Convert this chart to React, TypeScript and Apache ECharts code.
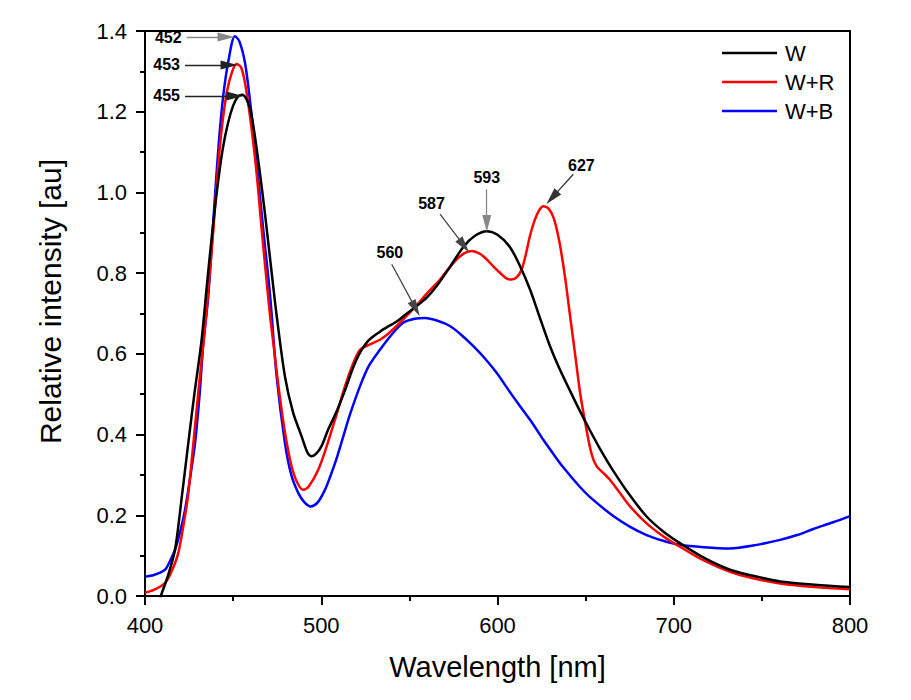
import React, { useEffect, useRef } from "react";
import * as echarts from "echarts";

// ---- data ----
const wlW = [400, 405, 409, 413, 417, 421, 424.6, 428, 432, 435, 438, 441, 444, 447, 450, 452.5, 455, 457.5, 460, 462, 465, 468, 471, 474.7, 479.4, 484, 488.9, 492, 494.5, 497, 500, 504, 509, 513.5, 518, 522, 527, 533.3, 538, 542.8, 548, 554, 560, 565.5, 573, 580.6, 587, 593.9, 600, 607, 612.5, 618.4, 624, 629.8, 635, 641, 646.8, 652.5, 658, 665.7, 675, 684.6, 694, 703.5, 717, 731.9, 745, 760.3, 780, 800];
const valW = [-0.12, -0.06, 0.0, 0.05, 0.114, 0.25, 0.38, 0.5, 0.63, 0.765, 0.895, 1.01, 1.105, 1.17, 1.215, 1.236, 1.242, 1.232, 1.2, 1.15, 1.055, 0.95, 0.835, 0.695, 0.544, 0.455, 0.395, 0.357, 0.346, 0.352, 0.37, 0.413, 0.46, 0.51, 0.565, 0.603, 0.634, 0.655, 0.668, 0.68, 0.698, 0.718, 0.74, 0.768, 0.815, 0.865, 0.892, 0.904, 0.895, 0.865, 0.82, 0.76, 0.69, 0.619, 0.565, 0.51, 0.458, 0.41, 0.366, 0.31, 0.25, 0.197, 0.16, 0.131, 0.095, 0.065, 0.05, 0.036, 0.028, 0.022];

const wlWR = [400, 405, 411.3, 415, 418.9, 422, 424.6, 427.5, 430.2, 433, 435, 438.8, 441, 443.5, 446.5, 449.5, 452, 454.5, 457, 460.5, 463.5, 466.2, 469, 471, 472.8, 475, 477.5, 480, 483.2, 486.5, 489.8, 493, 498.3, 503, 507.8, 513.5, 518, 522, 527, 533.3, 538, 542.8, 548, 554, 560, 567.4, 572, 576.9, 581, 585.4, 590, 593.9, 598, 601.4, 605, 608, 611, 613.7, 616, 618.4, 621, 623.5, 626, 629, 632, 635, 638, 641, 644, 647, 650.6, 653.5, 656.3, 660, 663.8, 670, 675.2, 684.6, 694, 703.5, 717, 731.9, 745, 760.3, 780, 800];
const valWR = [0.008, 0.015, 0.032, 0.06, 0.107, 0.18, 0.255, 0.38, 0.503, 0.62, 0.71, 0.908, 1.04, 1.157, 1.25, 1.3, 1.318, 1.31, 1.265, 1.157, 1.04, 0.908, 0.78, 0.693, 0.627, 0.545, 0.462, 0.39, 0.321, 0.28, 0.263, 0.272, 0.313, 0.37, 0.437, 0.52, 0.575, 0.61, 0.622, 0.635, 0.65, 0.669, 0.692, 0.72, 0.75, 0.784, 0.81, 0.834, 0.849, 0.855, 0.848, 0.834, 0.815, 0.801, 0.787, 0.784, 0.79, 0.809, 0.845, 0.892, 0.93, 0.955, 0.966, 0.96, 0.935, 0.88, 0.8, 0.7, 0.6, 0.5, 0.41, 0.35, 0.321, 0.305, 0.288, 0.252, 0.222, 0.18, 0.148, 0.122, 0.088, 0.06, 0.044, 0.031, 0.022, 0.017];

const wlWB = [400, 405, 411.3, 414, 417, 420, 422.7, 425.5, 428.4, 431, 433.1, 435.9, 439.7, 442, 444.4, 447.5, 451, 453.5, 456.7, 459.5, 462.4, 467.1, 471, 474.7, 479.4, 483, 487, 490.5, 494, 498, 502, 505, 509, 513.5, 516.3, 522, 527, 533.3, 540, 546.5, 553, 558.9, 566, 573, 580, 586.3, 593, 599.5, 606, 612.8, 620, 626, 632, 637.3, 646.8, 652.5, 665.7, 675, 684.6, 694, 703.5, 717, 731.9, 745, 760.3, 770, 779.2, 790, 800];
const valWB = [0.048, 0.052, 0.065, 0.085, 0.114, 0.16, 0.213, 0.29, 0.379, 0.5, 0.627, 0.743, 0.991, 1.13, 1.24, 1.33, 1.387, 1.375, 1.322, 1.23, 1.115, 0.908, 0.743, 0.544, 0.379, 0.3, 0.255, 0.232, 0.222, 0.232, 0.262, 0.295, 0.345, 0.41, 0.45, 0.52, 0.57, 0.61, 0.648, 0.677, 0.687, 0.689, 0.682, 0.669, 0.645, 0.619, 0.588, 0.553, 0.512, 0.47, 0.427, 0.387, 0.35, 0.319, 0.27, 0.245, 0.198, 0.172, 0.151, 0.137, 0.127, 0.121, 0.118, 0.125, 0.139, 0.151, 0.166, 0.182, 0.198];

const seriesNames = ["W", "W+R", "W+B"];
const seriesColors = ["#000000", "#ff0000", "#0000ff"];

// peak annotations: label, arrow start [nm, au], arrow head [nm, au]
const annotLabels = ["452", "453", "455", "560", "587", "593", "627"];
const annotFrom = [[423.6, 1.385], [422.7, 1.316], [422.7, 1.239], [540, 0.822], [567.4, 0.946], [593.9, 1.008], [643, 1.045]];
const annotTo = [[446, 1.385], [447.7, 1.316], [451, 1.239], [553.6, 0.712], [581, 0.868], [593.9, 0.923], [631, 0.987]];
const annotLineColors = ["#888", "#222", "#222", "#444", "#444", "#888", "#333"];
const annotDist = [[5, -5], 5, 5, 4, 14, 4, 12];

const xTicks = { min: 400, max: 800, interval: 100 };
const yTicks = { min: 0, max: 1.4, interval: 0.2 };

const zip = (xs: number[], ys: number[]) => xs.map((x, i) => [x, ys[i]]);

export default function App() {
  const ref = useRef<HTMLDivElement>(null);
  useEffect(() => {
    if (!ref.current) return;
    const chart = echarts.init(ref.current, null, { renderer: "svg" });
    const font = "'Liberation Sans', Arial, sans-serif";
    const axisCommon = {
      axisLine: { show: true, onZero: false, lineStyle: { color: "#000", width: 2 } },
      axisTick: { show: true, inside: false, length: 9, lineStyle: { color: "#000", width: 2 } },
      minorTick: { show: true, splitNumber: 2, length: 5, lineStyle: { color: "#000", width: 2 } },
      splitLine: { show: false },
      axisLabel: { color: "#000", fontSize: 22, fontFamily: font, margin: 18 },
      nameTextStyle: { color: "#000", fontSize: 29, fontFamily: font },
    };
    const markData = annotLabels.map((lab, i) => [
      {
        coord: annotFrom[i],
        name: lab,
        lineStyle: { color: annotLineColors[i], width: 1.3, type: "solid" },
        label: { distance: annotDist[i] },
      },
      { coord: annotTo[i] },
    ]);
    const datasets = [zip(wlW, valW), zip(wlWR, valWR), zip(wlWB, valWB)];
    chart.setOption({
      animation: false,
      backgroundColor: "#fff",
      grid: { left: 145, right: 61, top: 31, bottom: 104, show: true, borderColor: "#000", borderWidth: 2, backgroundColor: "transparent" },
      legend: {
        orient: "vertical",
        left: 722,
        top: 42,
        padding: 0,
        icon: "rect",
        itemWidth: 55,
        itemHeight: 2.5,
        itemGap: 7,
        textStyle: { color: "#000", fontSize: 22, fontFamily: font, lineHeight: 22, padding: [0, 0, 0, 3] },
        data: seriesNames,
      },
      xAxis: {
        type: "value",
        ...xTicks,
        ...axisCommon,
        name: "Wavelength [nm]",
        nameLocation: "middle",
        nameGap: 56,
      },
      yAxis: {
        type: "value",
        ...yTicks,
        ...axisCommon,
        axisLabel: { ...axisCommon.axisLabel, formatter: (v: number) => v.toFixed(1) },
        name: "Relative intensity [au]",
        nameLocation: "middle",
        nameGap: 80,
        nameTextStyle: { color: "#000", fontSize: 30, fontFamily: font, padding: [0, 0, 0, 24] },
      },
      series: seriesNames.map((n, i) => ({
        name: n,
        type: "line",
        data: datasets[i],
        symbol: "none",
        smooth: 0.3,
        clip: true,
        lineStyle: { color: seriesColors[i], width: 2.5 },
        itemStyle: { color: seriesColors[i] },
        z: 3 - i,
        markLine:
          i === 0
            ? {
                silent: true,
                animation: false,
                symbol: ["none", "triangle"],
                symbolSize: [9, 17],
                label: {
                  show: true,
                  position: "start",
                  formatter: "{b}",
                  color: "#000",
                  fontSize: 16,
                  fontWeight: "bold",
                  fontFamily: font,
                },
                emphasis: { disabled: true },
                data: markData,
              }
            : undefined,
      })),
    });
    return () => chart.dispose();
  }, []);
  return <div ref={ref} style={{ position: "fixed", left: 0, top: 0, width: 911, height: 700 }} />;
}
